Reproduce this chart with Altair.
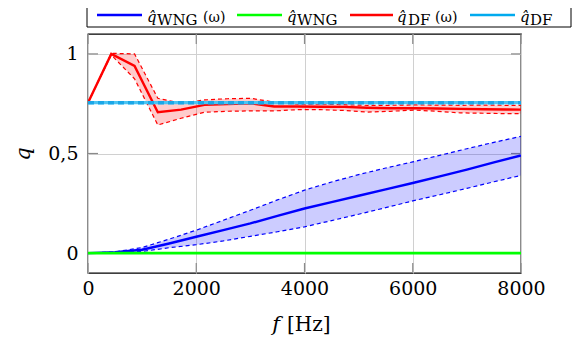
import altair as alt
import pandas as pd

# ---------------- data ----------------
x_ticks = [0, 2000, 4000, 6000, 8000]
y_ticks = [0, 0.5, 1]

blue_f = [0, 500, 1000, 1500, 2000, 2500, 3000, 3500, 4000, 4500, 5000, 5500, 6000, 6500, 7000, 7500, 8000]
blue_mean = [0.0, 0.004, 0.017, 0.048, 0.082, 0.115, 0.149, 0.187, 0.224, 0.256, 0.288, 0.32, 0.352, 0.385, 0.419, 0.455, 0.49]
blue_upper = [0.0, 0.006, 0.028, 0.07, 0.115, 0.165, 0.215, 0.267, 0.316, 0.357, 0.394, 0.427, 0.458, 0.491, 0.524, 0.556, 0.586]
blue_lower = [0.0, 0.002, 0.008, 0.027, 0.042, 0.061, 0.084, 0.107, 0.132, 0.163, 0.195, 0.228, 0.262, 0.293, 0.325, 0.358, 0.39]

red_f = [0, 430, 860, 1290, 1720, 2150, 2580, 3010, 3440, 3870, 4300, 4730, 5160, 5590, 6020, 6450, 6880, 7310, 7740, 8170]
red_mean = [0.755, 1.0, 0.94, 0.707, 0.72, 0.744, 0.748, 0.752, 0.736, 0.736, 0.735, 0.734, 0.73, 0.727, 0.728, 0.726, 0.724, 0.722, 0.721, 0.72]
red_upper = [0.755, 1.003, 1.0, 0.777, 0.752, 0.769, 0.775, 0.777, 0.758, 0.748, 0.748, 0.745, 0.742, 0.742, 0.744, 0.743, 0.742, 0.743, 0.742, 0.741]
red_lower = [0.755, 0.995, 0.875, 0.643, 0.677, 0.707, 0.712, 0.714, 0.714, 0.72, 0.72, 0.716, 0.708, 0.712, 0.718, 0.712, 0.704, 0.702, 0.70, 0.70]

green_f = [0, 8000]
green_q = [0.0, 0.0]

cyan_f = [0, 8000]
cyan_mean = [0.755, 0.755]
cyan_upper = [0.759, 0.759]
cyan_lower = [0.751, 0.751]

legend_labels = [("WNG", "(ω)"), ("WNG", ""), ("DF", "(ω)"), ("DF", "")]

# ---------------- styling ----------------
BLUE = "#0000ff"
GREEN = "#00ff00"
RED = "#ff0000"
CYAN = "#1aa7e8"
SERIF = "DejaVu Serif"

W, H = 433, 239

xs = alt.Scale(domain=[0, 8000], nice=False, zero=False)
ys = alt.Scale(domain=[-0.1, 1.1], nice=False, zero=False)

x_axis = alt.Axis(values=x_ticks, format="d", title=None, grid=True, ticks=False,
                  domain=False, labelFlush=False, labelPadding=6)
y_axis = alt.Axis(values=y_ticks, labelExpr="replace(format(datum.value, ''), '.', ',')",
                  title="q", titleFontStyle="italic", titleFont=SERIF, titleFontSize=21,
                  titleFontWeight="normal", titleColor="black", titlePadding=14,
                  grid=True, ticks=False, domain=False, labelPadding=10)

X = alt.X("f:Q", scale=xs, axis=x_axis)


def frame(f, **cols):
    d = {"f": f}
    d.update(cols)
    return pd.DataFrame(d)


def band(f, lo, hi, color):
    return alt.Chart(frame(f, lo=lo, hi=hi)).mark_area(
        color=color, opacity=0.2, clip=True
    ).encode(x=X, y=alt.Y("lo:Q", scale=ys, axis=y_axis), y2="hi:Q")


def line(f, q, color, width=2.2, dash=None):
    kw = dict(color=color, strokeWidth=width, clip=True)
    if dash:
        kw["strokeDash"] = dash
    return alt.Chart(frame(f, q=q)).mark_line(**kw).encode(
        x=X, y=alt.Y("q:Q", scale=ys, axis=y_axis)
    )


layers = []

# inner tick marks (pgfplots style)
tick_col = "#8a8a8a"
xt = pd.DataFrame({"f": x_ticks})
yt = pd.DataFrame({"q": y_ticks})
layers.append(alt.Chart(xt).mark_rule(color=tick_col, strokeWidth=1.2).encode(
    x=X, y=alt.value(H - 10), y2=alt.value(H)))
layers.append(alt.Chart(xt).mark_rule(color=tick_col, strokeWidth=1.2).encode(
    x=X, y=alt.value(0), y2=alt.value(10)))
layers.append(alt.Chart(yt).mark_rule(color=tick_col, strokeWidth=1.2).encode(
    y=alt.Y("q:Q", scale=ys, axis=y_axis), x=alt.value(0), x2=alt.value(10)))
layers.append(alt.Chart(yt).mark_rule(color=tick_col, strokeWidth=1.2).encode(
    y=alt.Y("q:Q", scale=ys, axis=y_axis), x=alt.value(W - 10), x2=alt.value(W)))

# blue: q_WNG(omega)
layers.append(band(blue_f, blue_lower, blue_upper, BLUE))
layers.append(line(blue_f, blue_upper, BLUE, 1.2, [4, 3]))
layers.append(line(blue_f, blue_lower, BLUE, 1.2, [4, 3]))
layers.append(line(blue_f, blue_mean, BLUE, 2.4))
# green: q_WNG
layers.append(line(green_f, green_q, GREEN, 2.6))
# red: q_DF(omega)
layers.append(band(red_f, red_lower, red_upper, RED))
layers.append(line(red_f, red_upper, RED, 1.2, [4, 3]))
layers.append(line(red_f, red_lower, RED, 1.2, [4, 3]))
layers.append(line(red_f, red_mean, RED, 2.4))
# cyan: q_DF
layers.append(band(cyan_f, cyan_lower, cyan_upper, "#00b0f0"))
layers.append(line(cyan_f, cyan_mean, "#4cc4f2", 3.2))
layers.append(line(cyan_f, cyan_upper, CYAN, 2.0, [6, 4]))
layers.append(line(cyan_f, cyan_lower, CYAN, 2.0, [6, 4]))


def txt(s, x, y, size, style="normal", align="left", baseline="alphabetic"):
    return alt.Chart(pd.DataFrame({"t": [s]})).mark_text(
        font=SERIF, fontSize=size, fontStyle=style, align=align, baseline=baseline,
        color="black"
    ).encode(text="t:N", x=alt.value(x), y=alt.value(y))


def seg(x1, x2, y1, y2, color, width):
    return alt.Chart(pd.DataFrame({"a": [0]})).mark_rule(
        color=color, strokeWidth=width
    ).encode(x=alt.value(x1), x2=alt.value(x2), y=alt.value(y1), y2=alt.value(y2))


# x-axis title: italic f + [Hz]
layers.append(txt("f", 192, 297, 21, style="italic", align="right"))
layers.append(txt("[Hz]", 199, 297, 20))

# custom legend (box open at the top, as cropped in the reference)
LY = -19
layers.append(seg(-1, 483, -7, -7, "black", 1))
layers.append(seg(-1, -1, -26, -7, "black", 1))
layers.append(seg(483, 483, -26, -7, "black", 1))
legend_cols = [BLUE, GREEN, RED, "#00aaee"]
line_x = [(9, 54), (149, 194), (262, 305), (382, 427)]
q_x = [59, 199, 309, 432]
sub_x = [69, 209, 320, 442]
om_x = [115, None, 347, None]
for (sub, om), col, (a, b), qx, sx, ox in zip(legend_labels, legend_cols, line_x, q_x, sub_x, om_x):
    layers.append(seg(a, b, LY, LY, col, 2.6))
    layers.append(txt("q\u0302", qx, -12, 15, style="italic"))
    layers.append(txt(sub, sx, -9, 15))
    if om and ox is not None:
        layers.append(txt(om, ox, -12, 14))

chart = alt.layer(*layers).properties(
    width=W, height=H,
    autosize=alt.AutoSizeParams(type="none"),
    padding={"left": 80, "top": 26, "right": 51, "bottom": 64},
).configure_view(
    stroke="black", strokeWidth=1.3
).configure_axis(
    labelFont=SERIF, labelFontSize=19, labelColor="black",
    gridColor="#d0d0d0", gridWidth=1,
)

chart.save("out.html", embed_options={"renderer": "svg", "actions": False})
